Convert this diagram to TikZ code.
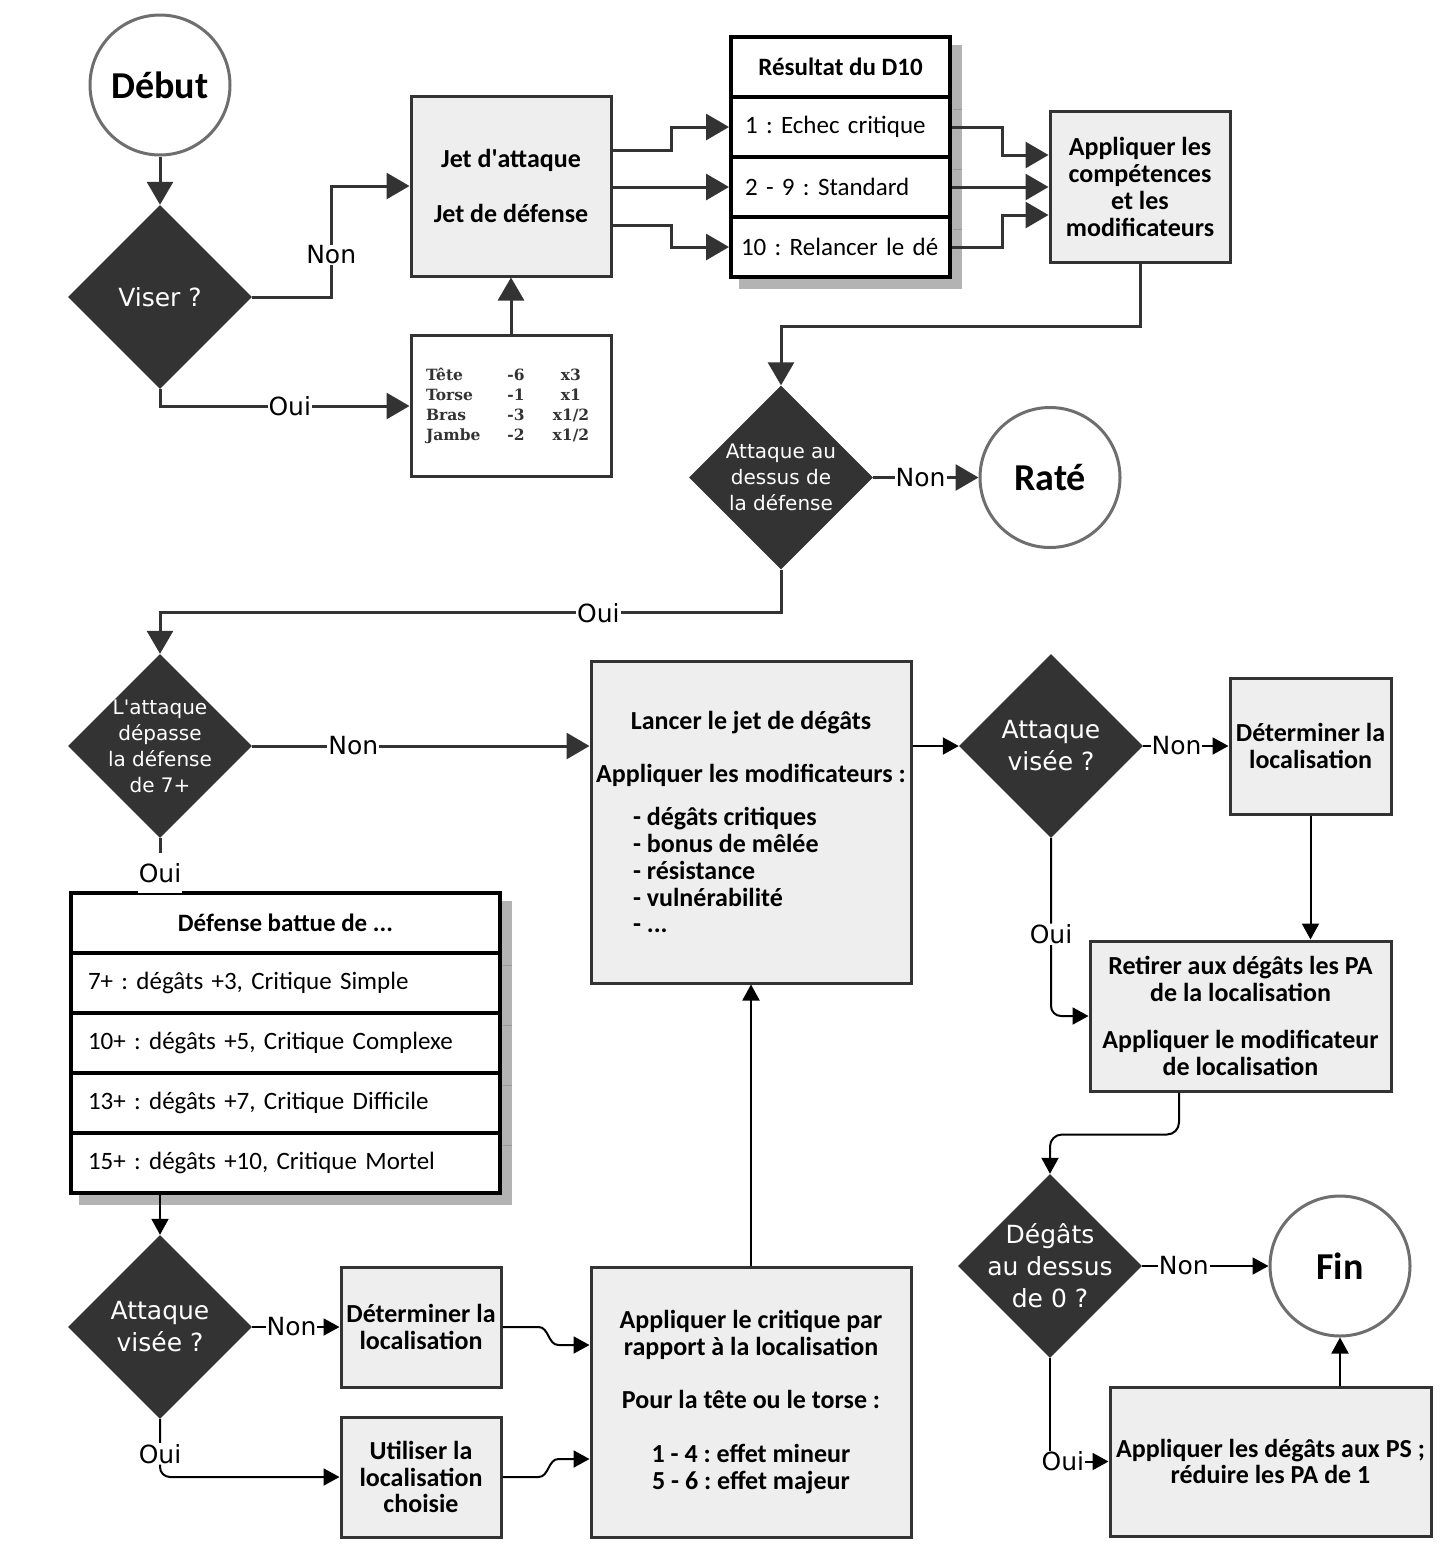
\documentclass[tikz,border=0pt]{standalone}
\usepackage{fontspec}
\setmainfont{Carlito}
\newfontfamily\dejavu{DejaVu Sans}
\newfontfamily\dejaserif{DejaVu Serif}
\usetikzlibrary{positioning,shapes.geometric,arrows.meta,backgrounds}
\frenchspacing

\definecolor{dark}{HTML}{333333}
\definecolor{boxfill}{HTML}{EEEEEE}
\definecolor{ringgray}{HTML}{6E6E6E}
\definecolor{shadowgray}{HTML}{B3B3B3}
\definecolor{shadowline}{HTML}{999999}

\newcommand{\boxfont}{\fontsize{26}{26.8}\selectfont\bfseries}
\newcommand{\headfont}{\fontsize{25}{26.8}\selectfont\bfseries}
\newcommand{\rowfont}{\fontsize{25}{26.8}\selectfont}
\newcommand{\bigask}{\dejavu\fontsize{25}{32}\selectfont}
\newcommand{\smallask}{\dejavu\fontsize{20}{26}\selectfont}
\newcommand{\listline}[1]{\makebox[236pt][l]{#1}}
\newcommand{\rowtext}[1]{\mbox{#1}}
\newcommand{\zrow}[3]{\makebox[80pt][l]{#1}\makebox[20pt]{#2}\hspace{20pt}\makebox[50pt]{#3}}

\tikzset{
  startstop/.style={circle, draw=ringgray, line width=3pt, fill=white, minimum size=140pt, inner sep=0pt, font=\fontsize{38}{40}\selectfont\bfseries},
  decision/.style={diamond, aspect=1, fill=dark, minimum size=184pt, inner sep=-14pt, text=white, align=center},
  process/.style={rectangle, draw=dark, line width=3pt, fill=boxfill, inner sep=0pt, align=center, font=\boxfont},
  tabhead/.style={rectangle, draw=black, line width=4pt, fill=white, minimum height=60pt, inner sep=0pt, font=\headfont},
  tabrow/.style={rectangle, draw=black, line width=4pt, fill=white, minimum height=60pt, align=left, font=\rowfont},
  flow/.style={draw=dark, line width=3pt, -{Triangle[length=23pt,width=26pt]}},
  link/.style={draw=black, line width=2pt, -{Triangle[length=16pt,width=17pt]}},
  lbl/.style={fill=white, inner sep=1pt, text=black, font=\dejavu\fontsize{25}{28}\selectfont},
}

\begin{document}
\begin{tikzpicture}[x=1pt, y=-1pt]
      \useasboundingbox (0,0) rectangle (1453,1561);

      % Nodes
      \node[startstop] (debut) at (160,85) {Début};
      \node[decision, font=\bigask] (viser) [node distance=212pt, below of=debut] {Viser ?};
      \node[process, minimum width=200pt, minimum height=180pt] (jet) [node distance=351pt, right of=viser, yshift=111pt] {Jet d\textquotesingle attaque\\[28pt]Jet de défense};
      \node[process, fill=white, minimum width=200pt, minimum height=141pt, text=dark, align=left, font=\dejaserif\bfseries\fontsize{15.5}{20}\selectfont] (zones) [node distance=220pt, below of=jet]
        {\zrow{Tête}{-6}{x3}\\\zrow{Torse}{-1}{x1}\\\zrow{Bras}{-3}{x1/2}\\\zrow{Jambe}{-2}{x1/2}};

      \node[tabhead, minimum width=219pt] (d10h) [node distance=329.5pt, right of=jet, yshift=119pt] {Résultat du D10};
      \node[tabrow, text width=191pt, inner xsep=14pt] (d10a) [node distance=60pt, below of=d10h] {\rowtext{1 : Echec critique}};
      \node[tabrow, text width=191pt, inner xsep=14pt] (d10b) [node distance=60pt, below of=d10a] {\rowtext{2 - 9 : Standard}};
      \node[tabrow, text width=191pt, inner xsep=14pt] (d10c) [node distance=60pt, below of=d10b] {\rowtext{\hspace{-4pt}10 : Relancer le dé}};
      \node[process, minimum width=180pt, minimum height=151pt] (appl) [node distance=299.5pt, right of=d10b] {Appliquer les\\compétences\\et les\\modificateurs};

      \node[decision, font=\smallask] (d2) [node distance=290.5pt, below of=appl, xshift=-359pt] {Attaque au\\dessus de\\la défense};
      \node[startstop] (rate) [node distance=269pt, right of=d2] {Raté};

      \node[decision, font=\smallask] (d3) [node distance=449pt, below of=viser] {L'attaque\\dépasse\\la défense\\de 7+};
      \node[process, minimum width=320pt, minimum height=322pt] (lancer) [node distance=591pt, right of=d3, yshift=-76pt]
        {Lancer le jet de dégâts\\[27pt]Appliquer les modificateurs :\\[16pt]
         \listline{- dégâts critiques}\\\listline{- bonus de mêlée}\\\listline{- résistance}\\\listline{- vulnérabilité}\\\listline{- ...}};

      \node[tabhead, minimum width=429pt] (defh) [node distance=177pt, below of=d3, xshift=125.5pt] {Défense battue de ...};
      \node[tabrow, text width=395pt, inner xsep=17pt] (defa) [node distance=60pt, below of=defh] {\rowtext{7+ : dégâts +3, Critique Simple}};
      \node[tabrow, text width=395pt, inner xsep=17pt] (defb) [node distance=60pt, below of=defa] {\rowtext{10+ : dégâts +5, Critique Complexe}};
      \node[tabrow, text width=395pt, inner xsep=17pt] (defc) [node distance=60pt, below of=defb] {\rowtext{13+ : dégâts +7, Critique Difficile}};
      \node[tabrow, text width=395pt, inner xsep=17pt] (defd) [node distance=60pt, below of=defc] {\rowtext{15+ : dégâts +10, Critique Mortel}};

      \node[decision, font=\bigask] (d4) [node distance=581pt, below of=d3] {Attaque\\visée ?};
      \node[process, minimum width=160pt, minimum height=120pt] (detb) [node distance=261pt, right of=d4] {Déterminer la\\localisation};
      \node[process, minimum width=160pt, minimum height=120pt] (util) [node distance=150pt, below of=detb] {Utiliser la\\localisation\\choisie};
      \node[process, minimum width=320pt, minimum height=270pt] (crit) [node distance=330pt, right of=detb, yshift=-75pt]
        {Appliquer le critique par\\rapport à la localisation\\[27pt]Pour la tête ou le torse :\\[27pt]1 - 4 : effet mineur\\5 - 6 : effet majeur};

      \node[decision, font=\bigask] (d5) [node distance=300pt, right of=lancer, yshift=76pt] {Attaque\\visée ?};
      \node[process, minimum width=161pt, minimum height=136pt] (deth) [node distance=259.5pt, right of=d5] {Déterminer la\\localisation};
      \node[process, minimum width=301pt, minimum height=150pt] (retirer) [node distance=270pt, below of=deth, xshift=-70pt]
        {Retirer aux dégâts les PA\\de la localisation\\[20pt]Appliquer le modificateur\\de localisation};
      \node[decision, font=\bigask] (d6) [node distance=520pt, below of=d5, xshift=-1pt] {Dégâts\\au dessus\\de 0 ?};
      \node[startstop] (fin) [node distance=290pt, right of=d6] {Fin};
      \node[process, minimum width=321pt, minimum height=149pt] (degats) [node distance=195.5pt, below of=fin, xshift=-69.5pt]
        {Appliquer les dégâts aux PS ;\\réduire les PA de 1};

      % Shadows
      \begin{scope}[on background layer]
        \foreach \r in {d10h,d10a,d10b,d10c,defh,defa,defb,defc,defd}
          \fill[shadowgray] ([xshift=10pt,yshift=-10pt]\r.south west) rectangle ([xshift=10pt,yshift=-10pt]\r.north east);
        \foreach \r in {d10h,d10a,d10b,defh,defa,defb,defc}
          \draw[shadowline, line width=1pt] ([xshift=1pt,yshift=-10pt]\r.south east) -- ++(9,0);
      \end{scope}

      % Arrows
      \draw[flow] (debut) -- (viser);
      \draw[flow] (viser.east) -- ++(79,0) |- node[lbl, pos=0.19] {Non} (jet.west);
      \draw[flow] (viser.south) |- node[lbl, pos=0.76] {Oui} (zones.west);
      \draw[flow] (zones) -- (jet);
      \draw[flow] ([yshift=36pt]jet.east) -- ++(59,0) |- (d10a.west);
      \draw[flow] (jet.east |- d10b.west) -- (d10b.west);
      \draw[flow] ([yshift=-39pt]jet.east) -- ++(59,0) |- (d10c.west);
      \draw[flow] (d10a.east) -- ++(50,0) |- ([yshift=32pt]appl.west);
      \draw[flow] (d10b.east) -- (appl.west);
      \draw[flow] (d10c.east) -- ++(50,0) |- ([yshift=-28pt]appl.west);
      \draw[flow] (appl.south) -- ++(0,62) -| (d2.north);
      \draw[flow] (d2) -- node[lbl, pos=0.45] {Non} (rate);
      \draw[flow] (d2.south) -- ++(0,43) -| node[lbl, pos=0.147] {Oui} (d3.north);
      \draw[flow] (d3.east) -- node[lbl, pos=0.3] {Non} (d3.east -| lancer.west);
      \draw[draw=dark, line width=3pt] (d3.south) -- node[lbl, pos=0.66, minimum height=40pt] {Oui} (d3.south |- defh.north);

      \draw[link] (d4.north |- defd.south) -- (d4);
      \draw[link] (d4) -- node[lbl, pos=0.45] {Non} (detb);
      \draw[link, rounded corners=10pt] (d4.south) |- node[lbl, pos=0.3] {Oui} (util.west);
      \draw[link] (detb.east) -- ++(36,0) to[out=0, in=180] ++(20,18) -- ([yshift=57pt]crit.west);
      \draw[link] (util.east) -- ++(36,0) to[out=0, in=180] ++(20,-18) -- ([yshift=-57pt]crit.west);
      \draw[link] (crit) -- (lancer);
      \draw[link] (d5.west -| lancer.east) -- (d5);
      \draw[link] (d5) -- node[lbl, pos=0.39] {Non} (deth);
      \draw[link] (deth) -- (deth.south |- retirer.north);
      \draw[link, rounded corners=10pt] (d5.south) |- node[lbl, pos=0.27] {Oui} (retirer.west);
      \draw[link, rounded corners=12pt] ([xshift=-61.5pt]retirer.south) -- ++(0,42) -| (d6.north);
      \draw[link] (d6) -- node[lbl, pos=0.33] {Non} (fin);
      \draw[link] (d6.south) |- node[lbl, pos=0.61] {Oui} (degats.west);
      \draw[link] (fin.south |- degats.north) -- (fin);

  \end{tikzpicture}
\end{document}
